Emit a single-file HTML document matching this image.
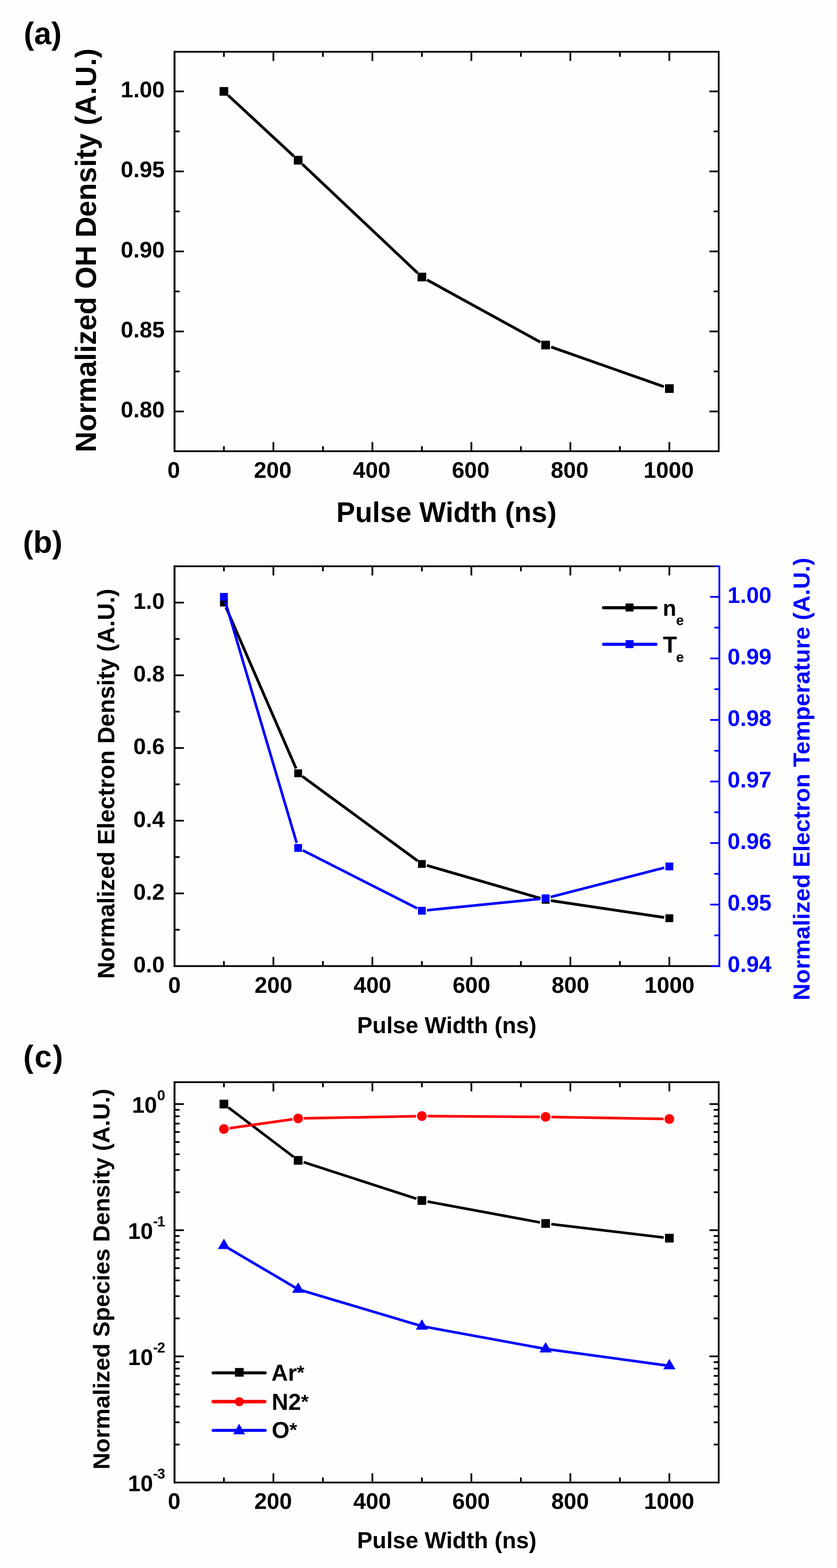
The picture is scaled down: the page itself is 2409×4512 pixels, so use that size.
<!DOCTYPE html>
<html><head><meta charset="utf-8"><title>Figure</title>
<style>
html,body{margin:0;padding:0;background:#fff;}
svg{display:block;}
text{font-family:"Liberation Sans", Arial, sans-serif;font-weight:bold;}
</style></head>
<body>
<svg width="2409" height="4512" viewBox="0 0 2409 4512">
<rect x="0" y="0" width="2409" height="4512" fill="#fefefe"/>
<text x="68.50" y="127.00" font-size="89" text-anchor="start" fill="#000">(a)</text>
<line x1="500.00" y1="149.00" x2="2071.00" y2="149.00" stroke="#000" stroke-width="5" stroke-linecap="butt"/>
<line x1="500.00" y1="1298.50" x2="2071.00" y2="1298.50" stroke="#000" stroke-width="5" stroke-linecap="butt"/>
<line x1="502.50" y1="146.50" x2="502.50" y2="1301.00" stroke="#000" stroke-width="5" stroke-linecap="butt"/>
<line x1="2068.50" y1="146.50" x2="2068.50" y2="1301.00" stroke="#000" stroke-width="5" stroke-linecap="butt"/>
<rect x="498.00" y="146.50" width="2" height="1154.50" fill="#c4c4c4"/>
<line x1="644.45" y1="1296.00" x2="644.45" y2="1284.00" stroke="#000" stroke-width="5" stroke-linecap="butt"/>
<line x1="644.45" y1="151.50" x2="644.45" y2="163.50" stroke="#000" stroke-width="5" stroke-linecap="butt"/>
<line x1="786.90" y1="1296.00" x2="786.90" y2="1272.00" stroke="#000" stroke-width="5" stroke-linecap="butt"/>
<line x1="786.90" y1="151.50" x2="786.90" y2="175.50" stroke="#000" stroke-width="5" stroke-linecap="butt"/>
<line x1="929.35" y1="1296.00" x2="929.35" y2="1284.00" stroke="#000" stroke-width="5" stroke-linecap="butt"/>
<line x1="929.35" y1="151.50" x2="929.35" y2="163.50" stroke="#000" stroke-width="5" stroke-linecap="butt"/>
<line x1="1071.80" y1="1296.00" x2="1071.80" y2="1272.00" stroke="#000" stroke-width="5" stroke-linecap="butt"/>
<line x1="1071.80" y1="151.50" x2="1071.80" y2="175.50" stroke="#000" stroke-width="5" stroke-linecap="butt"/>
<line x1="1214.25" y1="1296.00" x2="1214.25" y2="1284.00" stroke="#000" stroke-width="5" stroke-linecap="butt"/>
<line x1="1214.25" y1="151.50" x2="1214.25" y2="163.50" stroke="#000" stroke-width="5" stroke-linecap="butt"/>
<line x1="1356.70" y1="1296.00" x2="1356.70" y2="1272.00" stroke="#000" stroke-width="5" stroke-linecap="butt"/>
<line x1="1356.70" y1="151.50" x2="1356.70" y2="175.50" stroke="#000" stroke-width="5" stroke-linecap="butt"/>
<line x1="1499.15" y1="1296.00" x2="1499.15" y2="1284.00" stroke="#000" stroke-width="5" stroke-linecap="butt"/>
<line x1="1499.15" y1="151.50" x2="1499.15" y2="163.50" stroke="#000" stroke-width="5" stroke-linecap="butt"/>
<line x1="1641.60" y1="1296.00" x2="1641.60" y2="1272.00" stroke="#000" stroke-width="5" stroke-linecap="butt"/>
<line x1="1641.60" y1="151.50" x2="1641.60" y2="175.50" stroke="#000" stroke-width="5" stroke-linecap="butt"/>
<line x1="1784.05" y1="1296.00" x2="1784.05" y2="1284.00" stroke="#000" stroke-width="5" stroke-linecap="butt"/>
<line x1="1784.05" y1="151.50" x2="1784.05" y2="163.50" stroke="#000" stroke-width="5" stroke-linecap="butt"/>
<line x1="1926.50" y1="1296.00" x2="1926.50" y2="1272.00" stroke="#000" stroke-width="5" stroke-linecap="butt"/>
<line x1="1926.50" y1="151.50" x2="1926.50" y2="175.50" stroke="#000" stroke-width="5" stroke-linecap="butt"/>
<line x1="505.00" y1="1184.00" x2="529.00" y2="1184.00" stroke="#000" stroke-width="5" stroke-linecap="butt"/>
<line x1="2066.00" y1="1184.00" x2="2042.00" y2="1184.00" stroke="#000" stroke-width="5" stroke-linecap="butt"/>
<line x1="505.00" y1="1068.87" x2="517.00" y2="1068.87" stroke="#000" stroke-width="5" stroke-linecap="butt"/>
<line x1="2066.00" y1="1068.87" x2="2054.00" y2="1068.87" stroke="#000" stroke-width="5" stroke-linecap="butt"/>
<line x1="505.00" y1="953.75" x2="529.00" y2="953.75" stroke="#000" stroke-width="5" stroke-linecap="butt"/>
<line x1="2066.00" y1="953.75" x2="2042.00" y2="953.75" stroke="#000" stroke-width="5" stroke-linecap="butt"/>
<line x1="505.00" y1="838.62" x2="517.00" y2="838.62" stroke="#000" stroke-width="5" stroke-linecap="butt"/>
<line x1="2066.00" y1="838.62" x2="2054.00" y2="838.62" stroke="#000" stroke-width="5" stroke-linecap="butt"/>
<line x1="505.00" y1="723.50" x2="529.00" y2="723.50" stroke="#000" stroke-width="5" stroke-linecap="butt"/>
<line x1="2066.00" y1="723.50" x2="2042.00" y2="723.50" stroke="#000" stroke-width="5" stroke-linecap="butt"/>
<line x1="505.00" y1="608.37" x2="517.00" y2="608.37" stroke="#000" stroke-width="5" stroke-linecap="butt"/>
<line x1="2066.00" y1="608.37" x2="2054.00" y2="608.37" stroke="#000" stroke-width="5" stroke-linecap="butt"/>
<line x1="505.00" y1="493.25" x2="529.00" y2="493.25" stroke="#000" stroke-width="5" stroke-linecap="butt"/>
<line x1="2066.00" y1="493.25" x2="2042.00" y2="493.25" stroke="#000" stroke-width="5" stroke-linecap="butt"/>
<line x1="505.00" y1="378.12" x2="517.00" y2="378.12" stroke="#000" stroke-width="5" stroke-linecap="butt"/>
<line x1="2066.00" y1="378.12" x2="2054.00" y2="378.12" stroke="#000" stroke-width="5" stroke-linecap="butt"/>
<line x1="505.00" y1="263.00" x2="529.00" y2="263.00" stroke="#000" stroke-width="5" stroke-linecap="butt"/>
<line x1="2066.00" y1="263.00" x2="2042.00" y2="263.00" stroke="#000" stroke-width="5" stroke-linecap="butt"/>
<text x="474.00" y="1201.00" font-size="65" text-anchor="end" fill="#000">0.80</text>
<text x="474.00" y="970.75" font-size="65" text-anchor="end" fill="#000">0.85</text>
<text x="474.00" y="740.50" font-size="65" text-anchor="end" fill="#000">0.90</text>
<text x="474.00" y="510.25" font-size="65" text-anchor="end" fill="#000">0.95</text>
<text x="474.00" y="280.00" font-size="65" text-anchor="end" fill="#000">1.00</text>
<text x="500.00" y="1375.00" font-size="65" text-anchor="middle" fill="#000">0</text>
<text x="784.90" y="1375.00" font-size="65" text-anchor="middle" fill="#000">200</text>
<text x="1069.80" y="1375.00" font-size="65" text-anchor="middle" fill="#000">400</text>
<text x="1354.70" y="1375.00" font-size="65" text-anchor="middle" fill="#000">600</text>
<text x="1639.60" y="1375.00" font-size="65" text-anchor="middle" fill="#000">800</text>
<text x="1924.50" y="1375.00" font-size="65" text-anchor="middle" fill="#000">1000</text>
<text x="1285.00" y="1502.00" font-size="81" text-anchor="middle" fill="#000">Pulse Width (ns)</text>
<text transform="translate(276,720.5) rotate(-90)" font-size="83" text-anchor="middle">Normalized OH Density (A.U.)</text>
<line x1="656.92" y1="274.56" x2="845.66" y2="449.46" stroke="#000" stroke-width="8" stroke-linecap="butt"/>
<line x1="870.49" y1="472.68" x2="1201.89" y2="785.51" stroke="#000" stroke-width="8" stroke-linecap="butt"/>
<line x1="1229.15" y1="805.37" x2="1555.48" y2="984.70" stroke="#000" stroke-width="8" stroke-linecap="butt"/>
<line x1="1586.41" y1="998.53" x2="1910.46" y2="1112.51" stroke="#000" stroke-width="8" stroke-linecap="butt"/>
<rect x="631.95" y="250.50" width="25" height="25" fill="#000"/>
<rect x="845.62" y="448.52" width="25" height="25" fill="#000"/>
<rect x="1201.75" y="784.68" width="25" height="25" fill="#000"/>
<rect x="1557.88" y="980.39" width="25" height="25" fill="#000"/>
<rect x="1914.00" y="1105.65" width="25" height="25" fill="#000"/>
<text x="66.00" y="1591.00" font-size="89" text-anchor="start" fill="#000">(b)</text>
<line x1="500.00" y1="1629.50" x2="2073.00" y2="1629.50" stroke="#000" stroke-width="5" stroke-linecap="butt"/>
<line x1="500.00" y1="2780.00" x2="2073.00" y2="2780.00" stroke="#000" stroke-width="5" stroke-linecap="butt"/>
<line x1="502.50" y1="1627.00" x2="502.50" y2="2782.50" stroke="#000" stroke-width="5" stroke-linecap="butt"/>
<rect x="2066.00" y="1632.00" width="2" height="1145.50" fill="#dcdcff"/>
<line x1="2070.50" y1="1627.00" x2="2070.50" y2="2782.50" stroke="#00f" stroke-width="5" stroke-linecap="butt"/>
<rect x="498.00" y="1627.00" width="2" height="1155.50" fill="#c4c4c4"/>
<line x1="2057.00" y1="1629.50" x2="2073.00" y2="1629.50" stroke="#00f" stroke-width="5" stroke-linecap="butt"/>
<line x1="2045.00" y1="2780.00" x2="2073.00" y2="2780.00" stroke="#00f" stroke-width="5" stroke-linecap="butt"/>
<line x1="644.45" y1="2777.50" x2="644.45" y2="2765.50" stroke="#000" stroke-width="5" stroke-linecap="butt"/>
<line x1="644.45" y1="1632.00" x2="644.45" y2="1644.00" stroke="#000" stroke-width="5" stroke-linecap="butt"/>
<line x1="786.90" y1="2777.50" x2="786.90" y2="2753.50" stroke="#000" stroke-width="5" stroke-linecap="butt"/>
<line x1="786.90" y1="1632.00" x2="786.90" y2="1656.00" stroke="#000" stroke-width="5" stroke-linecap="butt"/>
<line x1="929.35" y1="2777.50" x2="929.35" y2="2765.50" stroke="#000" stroke-width="5" stroke-linecap="butt"/>
<line x1="929.35" y1="1632.00" x2="929.35" y2="1644.00" stroke="#000" stroke-width="5" stroke-linecap="butt"/>
<line x1="1071.80" y1="2777.50" x2="1071.80" y2="2753.50" stroke="#000" stroke-width="5" stroke-linecap="butt"/>
<line x1="1071.80" y1="1632.00" x2="1071.80" y2="1656.00" stroke="#000" stroke-width="5" stroke-linecap="butt"/>
<line x1="1214.25" y1="2777.50" x2="1214.25" y2="2765.50" stroke="#000" stroke-width="5" stroke-linecap="butt"/>
<line x1="1214.25" y1="1632.00" x2="1214.25" y2="1644.00" stroke="#000" stroke-width="5" stroke-linecap="butt"/>
<line x1="1356.70" y1="2777.50" x2="1356.70" y2="2753.50" stroke="#000" stroke-width="5" stroke-linecap="butt"/>
<line x1="1356.70" y1="1632.00" x2="1356.70" y2="1656.00" stroke="#000" stroke-width="5" stroke-linecap="butt"/>
<line x1="1499.15" y1="2777.50" x2="1499.15" y2="2765.50" stroke="#000" stroke-width="5" stroke-linecap="butt"/>
<line x1="1499.15" y1="1632.00" x2="1499.15" y2="1644.00" stroke="#000" stroke-width="5" stroke-linecap="butt"/>
<line x1="1641.60" y1="2777.50" x2="1641.60" y2="2753.50" stroke="#000" stroke-width="5" stroke-linecap="butt"/>
<line x1="1641.60" y1="1632.00" x2="1641.60" y2="1656.00" stroke="#000" stroke-width="5" stroke-linecap="butt"/>
<line x1="1784.05" y1="2777.50" x2="1784.05" y2="2765.50" stroke="#000" stroke-width="5" stroke-linecap="butt"/>
<line x1="1784.05" y1="1632.00" x2="1784.05" y2="1644.00" stroke="#000" stroke-width="5" stroke-linecap="butt"/>
<line x1="1926.50" y1="2777.50" x2="1926.50" y2="2753.50" stroke="#000" stroke-width="5" stroke-linecap="butt"/>
<line x1="1926.50" y1="1632.00" x2="1926.50" y2="1656.00" stroke="#000" stroke-width="5" stroke-linecap="butt"/>
<line x1="505.00" y1="2675.40" x2="517.00" y2="2675.40" stroke="#000" stroke-width="5" stroke-linecap="butt"/>
<line x1="505.00" y1="2570.80" x2="529.00" y2="2570.80" stroke="#000" stroke-width="5" stroke-linecap="butt"/>
<line x1="505.00" y1="2466.20" x2="517.00" y2="2466.20" stroke="#000" stroke-width="5" stroke-linecap="butt"/>
<line x1="505.00" y1="2361.60" x2="529.00" y2="2361.60" stroke="#000" stroke-width="5" stroke-linecap="butt"/>
<line x1="505.00" y1="2257.00" x2="517.00" y2="2257.00" stroke="#000" stroke-width="5" stroke-linecap="butt"/>
<line x1="505.00" y1="2152.40" x2="529.00" y2="2152.40" stroke="#000" stroke-width="5" stroke-linecap="butt"/>
<line x1="505.00" y1="2047.80" x2="517.00" y2="2047.80" stroke="#000" stroke-width="5" stroke-linecap="butt"/>
<line x1="505.00" y1="1943.20" x2="529.00" y2="1943.20" stroke="#000" stroke-width="5" stroke-linecap="butt"/>
<line x1="505.00" y1="1838.60" x2="517.00" y2="1838.60" stroke="#000" stroke-width="5" stroke-linecap="butt"/>
<line x1="505.00" y1="1734.00" x2="529.00" y2="1734.00" stroke="#000" stroke-width="5" stroke-linecap="butt"/>
<text x="474.00" y="2798.00" font-size="65" text-anchor="end" fill="#000">0.0</text>
<text x="474.00" y="2588.80" font-size="65" text-anchor="end" fill="#000">0.2</text>
<text x="474.00" y="2379.60" font-size="65" text-anchor="end" fill="#000">0.4</text>
<text x="474.00" y="2170.40" font-size="65" text-anchor="end" fill="#000">0.6</text>
<text x="474.00" y="1961.20" font-size="65" text-anchor="end" fill="#000">0.8</text>
<text x="474.00" y="1752.00" font-size="65" text-anchor="end" fill="#000">1.0</text>
<line x1="2068.00" y1="2691.55" x2="2056.00" y2="2691.55" stroke="#00f" stroke-width="5" stroke-linecap="butt"/>
<line x1="2068.00" y1="2603.00" x2="2044.00" y2="2603.00" stroke="#00f" stroke-width="5" stroke-linecap="butt"/>
<line x1="2068.00" y1="2514.45" x2="2056.00" y2="2514.45" stroke="#00f" stroke-width="5" stroke-linecap="butt"/>
<line x1="2068.00" y1="2425.90" x2="2044.00" y2="2425.90" stroke="#00f" stroke-width="5" stroke-linecap="butt"/>
<line x1="2068.00" y1="2337.35" x2="2056.00" y2="2337.35" stroke="#00f" stroke-width="5" stroke-linecap="butt"/>
<line x1="2068.00" y1="2248.80" x2="2044.00" y2="2248.80" stroke="#00f" stroke-width="5" stroke-linecap="butt"/>
<line x1="2068.00" y1="2160.25" x2="2056.00" y2="2160.25" stroke="#00f" stroke-width="5" stroke-linecap="butt"/>
<line x1="2068.00" y1="2071.70" x2="2044.00" y2="2071.70" stroke="#00f" stroke-width="5" stroke-linecap="butt"/>
<line x1="2068.00" y1="1983.15" x2="2056.00" y2="1983.15" stroke="#00f" stroke-width="5" stroke-linecap="butt"/>
<line x1="2068.00" y1="1894.60" x2="2044.00" y2="1894.60" stroke="#00f" stroke-width="5" stroke-linecap="butt"/>
<line x1="2068.00" y1="1806.05" x2="2056.00" y2="1806.05" stroke="#00f" stroke-width="5" stroke-linecap="butt"/>
<line x1="2068.00" y1="1717.50" x2="2044.00" y2="1717.50" stroke="#00f" stroke-width="5" stroke-linecap="butt"/>
<text x="2094.00" y="2797.10" font-size="65" text-anchor="start" fill="#00f">0.94</text>
<text x="2094.00" y="2620.00" font-size="65" text-anchor="start" fill="#00f">0.95</text>
<text x="2094.00" y="2442.90" font-size="65" text-anchor="start" fill="#00f">0.96</text>
<text x="2094.00" y="2265.80" font-size="65" text-anchor="start" fill="#00f">0.97</text>
<text x="2094.00" y="2088.70" font-size="65" text-anchor="start" fill="#00f">0.98</text>
<text x="2094.00" y="1911.60" font-size="65" text-anchor="start" fill="#00f">0.99</text>
<text x="2094.00" y="1734.50" font-size="65" text-anchor="start" fill="#00f">1.00</text>
<text x="502.20" y="2857.00" font-size="65" text-anchor="middle" fill="#000">0</text>
<text x="787.10" y="2857.00" font-size="65" text-anchor="middle" fill="#000">200</text>
<text x="1072.00" y="2857.00" font-size="65" text-anchor="middle" fill="#000">400</text>
<text x="1356.90" y="2857.00" font-size="65" text-anchor="middle" fill="#000">600</text>
<text x="1641.80" y="2857.00" font-size="65" text-anchor="middle" fill="#000">800</text>
<text x="1926.70" y="2857.00" font-size="65" text-anchor="middle" fill="#000">1000</text>
<text x="1286.00" y="2973.00" font-size="66" text-anchor="middle" fill="#000">Pulse Width (ns)</text>
<text transform="translate(328.6,2255.3) rotate(-90)" font-size="68" text-anchor="middle">Normalized Electron Density (A.U.)</text>
<text transform="translate(2329.5,2241.7) rotate(-90)" font-size="67.5" text-anchor="middle" fill="#00f">Normalized Electron Temperature (A.U.)</text>
<line x1="650.43" y1="1747.75" x2="852.14" y2="2211.45" stroke="#000" stroke-width="8" stroke-linecap="butt"/>
<line x1="870.23" y1="2234.07" x2="1202.15" y2="2477.21" stroke="#000" stroke-width="8" stroke-linecap="butt"/>
<line x1="1228.66" y1="2490.25" x2="1555.97" y2="2585.14" stroke="#000" stroke-width="8" stroke-linecap="butt"/>
<line x1="1585.21" y1="2591.52" x2="1911.66" y2="2640.04" stroke="#000" stroke-width="8" stroke-linecap="butt"/>
<rect x="633.20" y="1722.75" width="22.5" height="22.5" fill="#000"/>
<rect x="846.88" y="2213.95" width="22.5" height="22.5" fill="#000"/>
<rect x="1203.00" y="2474.82" width="22.5" height="22.5" fill="#000"/>
<rect x="1559.12" y="2578.06" width="22.5" height="22.5" fill="#000"/>
<rect x="1915.25" y="2630.99" width="22.5" height="22.5" fill="#000"/>
<line x1="648.70" y1="1731.88" x2="853.87" y2="2425.68" stroke="#00f" stroke-width="7.5" stroke-linecap="butt"/>
<line x1="871.50" y1="2446.85" x2="1200.87" y2="2613.92" stroke="#00f" stroke-width="7.5" stroke-linecap="butt"/>
<line x1="1229.17" y1="2619.21" x2="1555.45" y2="2586.44" stroke="#00f" stroke-width="7.5" stroke-linecap="butt"/>
<line x1="1584.90" y1="2581.19" x2="1911.97" y2="2496.94" stroke="#00f" stroke-width="7.5" stroke-linecap="butt"/>
<rect x="633.20" y="1706.25" width="22.5" height="22.5" fill="#00f"/>
<rect x="846.88" y="2428.82" width="22.5" height="22.5" fill="#00f"/>
<rect x="1203.00" y="2609.46" width="22.5" height="22.5" fill="#00f"/>
<rect x="1559.12" y="2573.69" width="22.5" height="22.5" fill="#00f"/>
<rect x="1915.25" y="2481.95" width="22.5" height="22.5" fill="#00f"/>
<line x1="1737.00" y1="1748.70" x2="1888.00" y2="1748.70" stroke="#000" stroke-width="9" stroke-linecap="round"/>
<rect x="1800.50" y="1736.50" width="23" height="23" fill="#000"/>
<text x="1907.50" y="1771.50" font-size="64" text-anchor="start" fill="#000">n</text>
<text x="1946.00" y="1798.50" font-size="40" text-anchor="start" fill="#000">e</text>
<line x1="1737.00" y1="1854.00" x2="1888.00" y2="1854.00" stroke="#00f" stroke-width="9" stroke-linecap="round"/>
<rect x="1800.50" y="1842.00" width="23" height="23" fill="#00f"/>
<text x="1908.00" y="1877.50" font-size="66" text-anchor="start" fill="#000">T</text>
<text x="1946.00" y="1904.50" font-size="40" text-anchor="start" fill="#000">e</text>
<text x="67.00" y="3071.00" font-size="89" text-anchor="start" fill="#000" letter-spacing="2.8">(c)</text>
<line x1="500.00" y1="3114.00" x2="2071.00" y2="3114.00" stroke="#000" stroke-width="5" stroke-linecap="butt"/>
<line x1="500.00" y1="4266.00" x2="2071.00" y2="4266.00" stroke="#000" stroke-width="5" stroke-linecap="butt"/>
<line x1="502.50" y1="3111.50" x2="502.50" y2="4268.50" stroke="#000" stroke-width="5" stroke-linecap="butt"/>
<line x1="2068.50" y1="3111.50" x2="2068.50" y2="4268.50" stroke="#000" stroke-width="5" stroke-linecap="butt"/>
<rect x="498.00" y="3111.50" width="2" height="1157.00" fill="#c4c4c4"/>
<line x1="644.45" y1="4263.50" x2="644.45" y2="4251.50" stroke="#000" stroke-width="5" stroke-linecap="butt"/>
<line x1="644.45" y1="3116.50" x2="644.45" y2="3128.50" stroke="#000" stroke-width="5" stroke-linecap="butt"/>
<line x1="786.90" y1="4263.50" x2="786.90" y2="4239.50" stroke="#000" stroke-width="5" stroke-linecap="butt"/>
<line x1="786.90" y1="3116.50" x2="786.90" y2="3140.50" stroke="#000" stroke-width="5" stroke-linecap="butt"/>
<line x1="929.35" y1="4263.50" x2="929.35" y2="4251.50" stroke="#000" stroke-width="5" stroke-linecap="butt"/>
<line x1="929.35" y1="3116.50" x2="929.35" y2="3128.50" stroke="#000" stroke-width="5" stroke-linecap="butt"/>
<line x1="1071.80" y1="4263.50" x2="1071.80" y2="4239.50" stroke="#000" stroke-width="5" stroke-linecap="butt"/>
<line x1="1071.80" y1="3116.50" x2="1071.80" y2="3140.50" stroke="#000" stroke-width="5" stroke-linecap="butt"/>
<line x1="1214.25" y1="4263.50" x2="1214.25" y2="4251.50" stroke="#000" stroke-width="5" stroke-linecap="butt"/>
<line x1="1214.25" y1="3116.50" x2="1214.25" y2="3128.50" stroke="#000" stroke-width="5" stroke-linecap="butt"/>
<line x1="1356.70" y1="4263.50" x2="1356.70" y2="4239.50" stroke="#000" stroke-width="5" stroke-linecap="butt"/>
<line x1="1356.70" y1="3116.50" x2="1356.70" y2="3140.50" stroke="#000" stroke-width="5" stroke-linecap="butt"/>
<line x1="1499.15" y1="4263.50" x2="1499.15" y2="4251.50" stroke="#000" stroke-width="5" stroke-linecap="butt"/>
<line x1="1499.15" y1="3116.50" x2="1499.15" y2="3128.50" stroke="#000" stroke-width="5" stroke-linecap="butt"/>
<line x1="1641.60" y1="4263.50" x2="1641.60" y2="4239.50" stroke="#000" stroke-width="5" stroke-linecap="butt"/>
<line x1="1641.60" y1="3116.50" x2="1641.60" y2="3140.50" stroke="#000" stroke-width="5" stroke-linecap="butt"/>
<line x1="1784.05" y1="4263.50" x2="1784.05" y2="4251.50" stroke="#000" stroke-width="5" stroke-linecap="butt"/>
<line x1="1784.05" y1="3116.50" x2="1784.05" y2="3128.50" stroke="#000" stroke-width="5" stroke-linecap="butt"/>
<line x1="1926.50" y1="4263.50" x2="1926.50" y2="4239.50" stroke="#000" stroke-width="5" stroke-linecap="butt"/>
<line x1="1926.50" y1="3116.50" x2="1926.50" y2="3140.50" stroke="#000" stroke-width="5" stroke-linecap="butt"/>
<line x1="505.00" y1="4156.73" x2="517.00" y2="4156.73" stroke="#000" stroke-width="5" stroke-linecap="butt"/>
<line x1="2066.00" y1="4156.73" x2="2054.00" y2="4156.73" stroke="#000" stroke-width="5" stroke-linecap="butt"/>
<line x1="505.00" y1="4092.80" x2="517.00" y2="4092.80" stroke="#000" stroke-width="5" stroke-linecap="butt"/>
<line x1="2066.00" y1="4092.80" x2="2054.00" y2="4092.80" stroke="#000" stroke-width="5" stroke-linecap="butt"/>
<line x1="505.00" y1="4047.45" x2="517.00" y2="4047.45" stroke="#000" stroke-width="5" stroke-linecap="butt"/>
<line x1="2066.00" y1="4047.45" x2="2054.00" y2="4047.45" stroke="#000" stroke-width="5" stroke-linecap="butt"/>
<line x1="505.00" y1="4012.27" x2="517.00" y2="4012.27" stroke="#000" stroke-width="5" stroke-linecap="butt"/>
<line x1="2066.00" y1="4012.27" x2="2054.00" y2="4012.27" stroke="#000" stroke-width="5" stroke-linecap="butt"/>
<line x1="505.00" y1="3983.53" x2="517.00" y2="3983.53" stroke="#000" stroke-width="5" stroke-linecap="butt"/>
<line x1="2066.00" y1="3983.53" x2="2054.00" y2="3983.53" stroke="#000" stroke-width="5" stroke-linecap="butt"/>
<line x1="505.00" y1="3959.23" x2="517.00" y2="3959.23" stroke="#000" stroke-width="5" stroke-linecap="butt"/>
<line x1="2066.00" y1="3959.23" x2="2054.00" y2="3959.23" stroke="#000" stroke-width="5" stroke-linecap="butt"/>
<line x1="505.00" y1="3938.18" x2="517.00" y2="3938.18" stroke="#000" stroke-width="5" stroke-linecap="butt"/>
<line x1="2066.00" y1="3938.18" x2="2054.00" y2="3938.18" stroke="#000" stroke-width="5" stroke-linecap="butt"/>
<line x1="505.00" y1="3919.61" x2="517.00" y2="3919.61" stroke="#000" stroke-width="5" stroke-linecap="butt"/>
<line x1="2066.00" y1="3919.61" x2="2054.00" y2="3919.61" stroke="#000" stroke-width="5" stroke-linecap="butt"/>
<line x1="505.00" y1="3903.00" x2="529.00" y2="3903.00" stroke="#000" stroke-width="5" stroke-linecap="butt"/>
<line x1="2066.00" y1="3903.00" x2="2042.00" y2="3903.00" stroke="#000" stroke-width="5" stroke-linecap="butt"/>
<line x1="505.00" y1="3793.73" x2="517.00" y2="3793.73" stroke="#000" stroke-width="5" stroke-linecap="butt"/>
<line x1="2066.00" y1="3793.73" x2="2054.00" y2="3793.73" stroke="#000" stroke-width="5" stroke-linecap="butt"/>
<line x1="505.00" y1="3729.80" x2="517.00" y2="3729.80" stroke="#000" stroke-width="5" stroke-linecap="butt"/>
<line x1="2066.00" y1="3729.80" x2="2054.00" y2="3729.80" stroke="#000" stroke-width="5" stroke-linecap="butt"/>
<line x1="505.00" y1="3684.45" x2="517.00" y2="3684.45" stroke="#000" stroke-width="5" stroke-linecap="butt"/>
<line x1="2066.00" y1="3684.45" x2="2054.00" y2="3684.45" stroke="#000" stroke-width="5" stroke-linecap="butt"/>
<line x1="505.00" y1="3649.27" x2="517.00" y2="3649.27" stroke="#000" stroke-width="5" stroke-linecap="butt"/>
<line x1="2066.00" y1="3649.27" x2="2054.00" y2="3649.27" stroke="#000" stroke-width="5" stroke-linecap="butt"/>
<line x1="505.00" y1="3620.53" x2="517.00" y2="3620.53" stroke="#000" stroke-width="5" stroke-linecap="butt"/>
<line x1="2066.00" y1="3620.53" x2="2054.00" y2="3620.53" stroke="#000" stroke-width="5" stroke-linecap="butt"/>
<line x1="505.00" y1="3596.23" x2="517.00" y2="3596.23" stroke="#000" stroke-width="5" stroke-linecap="butt"/>
<line x1="2066.00" y1="3596.23" x2="2054.00" y2="3596.23" stroke="#000" stroke-width="5" stroke-linecap="butt"/>
<line x1="505.00" y1="3575.18" x2="517.00" y2="3575.18" stroke="#000" stroke-width="5" stroke-linecap="butt"/>
<line x1="2066.00" y1="3575.18" x2="2054.00" y2="3575.18" stroke="#000" stroke-width="5" stroke-linecap="butt"/>
<line x1="505.00" y1="3556.61" x2="517.00" y2="3556.61" stroke="#000" stroke-width="5" stroke-linecap="butt"/>
<line x1="2066.00" y1="3556.61" x2="2054.00" y2="3556.61" stroke="#000" stroke-width="5" stroke-linecap="butt"/>
<line x1="505.00" y1="3540.00" x2="529.00" y2="3540.00" stroke="#000" stroke-width="5" stroke-linecap="butt"/>
<line x1="2066.00" y1="3540.00" x2="2042.00" y2="3540.00" stroke="#000" stroke-width="5" stroke-linecap="butt"/>
<line x1="505.00" y1="3430.73" x2="517.00" y2="3430.73" stroke="#000" stroke-width="5" stroke-linecap="butt"/>
<line x1="2066.00" y1="3430.73" x2="2054.00" y2="3430.73" stroke="#000" stroke-width="5" stroke-linecap="butt"/>
<line x1="505.00" y1="3366.80" x2="517.00" y2="3366.80" stroke="#000" stroke-width="5" stroke-linecap="butt"/>
<line x1="2066.00" y1="3366.80" x2="2054.00" y2="3366.80" stroke="#000" stroke-width="5" stroke-linecap="butt"/>
<line x1="505.00" y1="3321.45" x2="517.00" y2="3321.45" stroke="#000" stroke-width="5" stroke-linecap="butt"/>
<line x1="2066.00" y1="3321.45" x2="2054.00" y2="3321.45" stroke="#000" stroke-width="5" stroke-linecap="butt"/>
<line x1="505.00" y1="3286.27" x2="517.00" y2="3286.27" stroke="#000" stroke-width="5" stroke-linecap="butt"/>
<line x1="2066.00" y1="3286.27" x2="2054.00" y2="3286.27" stroke="#000" stroke-width="5" stroke-linecap="butt"/>
<line x1="505.00" y1="3257.53" x2="517.00" y2="3257.53" stroke="#000" stroke-width="5" stroke-linecap="butt"/>
<line x1="2066.00" y1="3257.53" x2="2054.00" y2="3257.53" stroke="#000" stroke-width="5" stroke-linecap="butt"/>
<line x1="505.00" y1="3233.23" x2="517.00" y2="3233.23" stroke="#000" stroke-width="5" stroke-linecap="butt"/>
<line x1="2066.00" y1="3233.23" x2="2054.00" y2="3233.23" stroke="#000" stroke-width="5" stroke-linecap="butt"/>
<line x1="505.00" y1="3212.18" x2="517.00" y2="3212.18" stroke="#000" stroke-width="5" stroke-linecap="butt"/>
<line x1="2066.00" y1="3212.18" x2="2054.00" y2="3212.18" stroke="#000" stroke-width="5" stroke-linecap="butt"/>
<line x1="505.00" y1="3193.61" x2="517.00" y2="3193.61" stroke="#000" stroke-width="5" stroke-linecap="butt"/>
<line x1="2066.00" y1="3193.61" x2="2054.00" y2="3193.61" stroke="#000" stroke-width="5" stroke-linecap="butt"/>
<line x1="505.00" y1="3177.00" x2="529.00" y2="3177.00" stroke="#000" stroke-width="5" stroke-linecap="butt"/>
<line x1="2066.00" y1="3177.00" x2="2042.00" y2="3177.00" stroke="#000" stroke-width="5" stroke-linecap="butt"/>
<text x="475.50" y="4254.50" font-size="42" text-anchor="end" fill="#000">3</text>
<text x="454.50" y="4254.50" font-size="42" text-anchor="end" fill="#000">-</text>
<text x="440.50" y="4291.00" font-size="65" text-anchor="end" fill="#000">10</text>
<text x="475.50" y="3891.50" font-size="42" text-anchor="end" fill="#000">2</text>
<text x="454.50" y="3891.50" font-size="42" text-anchor="end" fill="#000">-</text>
<text x="440.50" y="3928.00" font-size="65" text-anchor="end" fill="#000">10</text>
<text x="475.50" y="3528.50" font-size="42" text-anchor="end" fill="#000">1</text>
<text x="454.50" y="3528.50" font-size="42" text-anchor="end" fill="#000">-</text>
<text x="440.50" y="3565.00" font-size="65" text-anchor="end" fill="#000">10</text>
<text x="475.50" y="3165.50" font-size="42" text-anchor="end" fill="#000">0</text>
<text x="452.00" y="3202.00" font-size="65" text-anchor="end" fill="#000">10</text>
<text x="501.30" y="4342.00" font-size="65" text-anchor="middle" fill="#000">0</text>
<text x="786.20" y="4342.00" font-size="65" text-anchor="middle" fill="#000">200</text>
<text x="1071.10" y="4342.00" font-size="65" text-anchor="middle" fill="#000">400</text>
<text x="1356.00" y="4342.00" font-size="65" text-anchor="middle" fill="#000">600</text>
<text x="1640.90" y="4342.00" font-size="65" text-anchor="middle" fill="#000">800</text>
<text x="1925.80" y="4342.00" font-size="65" text-anchor="middle" fill="#000">1000</text>
<text x="1286.00" y="4454.50" font-size="66" text-anchor="middle" fill="#000">Pulse Width (ns)</text>
<text transform="translate(315,3680.7) rotate(-90)" font-size="67.3" text-anchor="middle">Normalized Species Density (A.U.)</text>
<line x1="657.60" y1="3186.97" x2="844.98" y2="3329.06" stroke="#000" stroke-width="7.5" stroke-linecap="butt"/>
<line x1="873.82" y1="3344.12" x2="1198.55" y2="3449.41" stroke="#000" stroke-width="7.5" stroke-linecap="butt"/>
<line x1="1230.47" y1="3457.51" x2="1554.15" y2="3517.58" stroke="#000" stroke-width="7.5" stroke-linecap="butt"/>
<line x1="1586.76" y1="3522.54" x2="1910.12" y2="3560.92" stroke="#000" stroke-width="7.5" stroke-linecap="butt"/>
<line x1="660.79" y1="3246.52" x2="841.79" y2="3220.74" stroke="#f00" stroke-width="7.5" stroke-linecap="butt"/>
<line x1="874.62" y1="3218.09" x2="1197.75" y2="3211.90" stroke="#f00" stroke-width="7.5" stroke-linecap="butt"/>
<line x1="1230.75" y1="3211.70" x2="1553.88" y2="3213.85" stroke="#f00" stroke-width="7.5" stroke-linecap="butt"/>
<line x1="1586.87" y1="3214.24" x2="1910.00" y2="3219.77" stroke="#f00" stroke-width="7.5" stroke-linecap="butt"/>
<line x1="651.34" y1="3588.23" x2="851.23" y2="3705.99" stroke="#00f" stroke-width="7.5" stroke-linecap="butt"/>
<line x1="865.79" y1="3712.34" x2="1206.58" y2="3813.93" stroke="#00f" stroke-width="7.5" stroke-linecap="butt"/>
<line x1="1222.12" y1="3817.66" x2="1562.51" y2="3880.19" stroke="#00f" stroke-width="7.5" stroke-linecap="butt"/>
<line x1="1578.30" y1="3882.72" x2="1918.57" y2="3929.23" stroke="#00f" stroke-width="7.5" stroke-linecap="butt"/>
<rect x="631.95" y="3164.50" width="25" height="25" fill="#000"/>
<rect x="845.62" y="3326.53" width="25" height="25" fill="#000"/>
<rect x="1201.75" y="3442.00" width="25" height="25" fill="#000"/>
<rect x="1557.88" y="3508.09" width="25" height="25" fill="#000"/>
<rect x="1914.00" y="3550.36" width="25" height="25" fill="#000"/>
<circle cx="644.45" cy="3248.84" r="14.00" fill="#f00"/>
<circle cx="858.12" cy="3218.41" r="14.00" fill="#f00"/>
<circle cx="1214.25" cy="3211.59" r="14.00" fill="#f00"/>
<circle cx="1570.38" cy="3213.96" r="14.00" fill="#f00"/>
<circle cx="1926.50" cy="3220.06" r="14.00" fill="#f00"/>
<polygon points="644.45,3564.17 661.95,3594.17 626.95,3594.17" fill="#00f"/>
<polygon points="858.12,3690.05 875.62,3720.05 840.62,3720.05" fill="#00f"/>
<polygon points="1214.25,3796.21 1231.75,3826.21 1196.75,3826.21" fill="#00f"/>
<polygon points="1570.38,3861.64 1587.88,3891.64 1552.88,3891.64" fill="#00f"/>
<polygon points="1926.50,3910.32 1944.00,3940.32 1909.00,3940.32" fill="#00f"/>
<line x1="613.00" y1="3950.50" x2="763.50" y2="3950.50" stroke="#000" stroke-width="8.5" stroke-linecap="round"/>
<rect x="676.30" y="3936.50" width="25" height="25" fill="#000"/>
<text x="781.00" y="3972.50" font-size="66" text-anchor="start" fill="#000">Ar<tspan font-size="56" dy="-5">*</tspan></text>
<line x1="613.50" y1="4033.20" x2="762.00" y2="4033.20" stroke="#f00" stroke-width="10" stroke-linecap="round"/>
<circle cx="688.80" cy="4033.50" r="13.00" fill="#f00"/>
<text x="782.00" y="4056.50" font-size="66" text-anchor="start" fill="#000">N2<tspan font-size="56" dy="-5">*</tspan></text>
<line x1="613.00" y1="4115.90" x2="763.50" y2="4115.90" stroke="#00f" stroke-width="8.5" stroke-linecap="round"/>
<polygon points="688.20,4096.70 705.20,4127.30 671.20,4127.30" fill="#00f"/>
<text x="782.00" y="4138.00" font-size="66" text-anchor="start" fill="#000">O<tspan font-size="56" dy="-5">*</tspan></text>
</svg>
</body></html>
